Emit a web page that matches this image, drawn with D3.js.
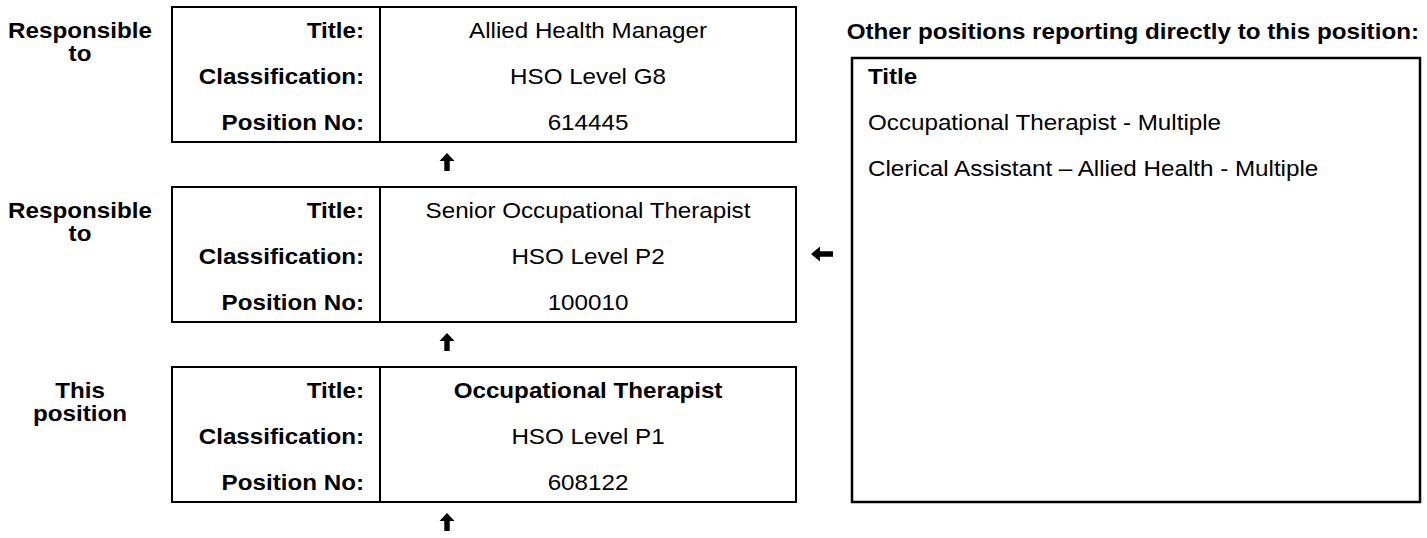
<!DOCTYPE html>
<html>
<head>
<meta charset="utf-8">
<script src="https://cdn.jsdelivr.net/npm/d3@7"></script>
<style>
  html, body { margin: 0; padding: 0; background: #fff; }
  svg { display: block; }
  text { font-family: "Liberation Sans", Arial, sans-serif; fill: #000; }
</style>
</head>
<body>
<div id="chart"></div>
<script>
// chain of positions, top to bottom
var sideLabels = [['Responsible', 'to'], ['Responsible', 'to'], ['This', 'position']];
var fieldLabels = ['Title:', 'Classification:', 'Position No:'];
var titles = ['Allied Health Manager', 'Senior Occupational Therapist', 'Occupational Therapist'];
var classifications = ['HSO Level G8', 'HSO Level P2', 'HSO Level P1'];
var positionNos = ['614445', '100010', '608122'];
var currentIndex = 2;

var otherHeading = 'Other positions reporting directly to this position:';
var otherColumn = 'Title';
var otherTitles = ['Occupational Therapist - Multiple', 'Clerical Assistant \u2013 Allied Health - Multiple'];

var width = 1427,
    height = 538,
    fontsize = 22,
    sx = 1.1,
    svg = d3.select('#chart').append('svg')
        .attr('width', width)
        .attr('height', height),
    boxLeft = 172,
    boxMid = 380,
    boxRight = 796,
    yBox = d3.scaleBand()
        .domain(d3.range(titles.length))
        .range([7, 502])
        .paddingInner(0.25),
    yRow = d3.scalePoint()
        .domain(fieldLabels)
        .range([23, 115]);

var label = function(sel, x, y, txt, anchor, bold) {
    sel.append('text')
        .attr('transform', 'translate(' + x + ',' + y + ') scale(' + sx + ',1)')
        .attr('dy', '0.35em')
        .style('font-size', fontsize + 'px')
        .style('font-weight', bold ? 'bold' : 'normal')
        .style('text-anchor', anchor)
        .text(txt);
};

var rows = titles.map(function(t, i) {
    return {side: sideLabels[i], values: [t, classifications[i], positionNos[i]], current: i === currentIndex};
});

var box = svg.selectAll('.box')
    .data(rows)
    .enter()
    .append('g')
    .attr('class', 'box')
    .attr('transform', function(d, i) { return 'translate(0,' + yBox(i) + ')'; });

box.append('rect')
    .attr('x', boxLeft)
    .attr('y', 0)
    .attr('width', boxRight - boxLeft)
    .attr('height', yBox.bandwidth())
    .attr('fill', 'none')
    .attr('stroke', '#000')
    .attr('stroke-width', 2);

box.append('line')
    .attr('x1', boxMid).attr('x2', boxMid)
    .attr('y1', 0).attr('y2', yBox.bandwidth())
    .attr('stroke', '#000')
    .attr('stroke-width', 2);

box.each(function(d) {
    var g = d3.select(this);
    d.side.forEach(function(line, k) {
        label(g, 80, yRow(fieldLabels[0]) + k * 23, line, 'middle', true);
    });
    fieldLabels.forEach(function(f, k) {
        label(g, 364, yRow(f), f, 'end', true);
        label(g, (boxMid + boxRight) / 2, yRow(f), d.values[k], 'middle', d.current && k === 0);
    });
});

// up arrows under each box
var upArrow = 'M0,-9 L7.5,-1 L2.7,-1 L2.7,9 L-2.7,9 L-2.7,-1 L-7.5,-1 Z';
svg.selectAll('.up')
    .data(rows)
    .enter()
    .append('path')
    .attr('class', 'up')
    .attr('d', upArrow)
    .attr('transform', function(d, i) { return 'translate(447,' + (yBox(i) + yBox.bandwidth() + 20) + ')'; })
    .attr('fill', '#000');

// left arrow pointing to the middle box
svg.append('path')
    .attr('d', 'M-11,0 L-2,-7.5 L-2,-2.7 L11,-2.7 L11,2.7 L-2,2.7 L-2,7.5 Z')
    .attr('transform', 'translate(822,' + (yBox(1) + yRow(fieldLabels[1]) - 2) + ')')
    .attr('fill', '#000');

// other positions panel
var panel = svg.append('g');
var pRow = d3.scalePoint()
    .domain(d3.range(otherTitles.length + 1))
    .range([76, 76 + 46 * otherTitles.length]);

label(panel, 1419, 31, otherHeading, 'end', true);

panel.append('rect')
    .attr('x', 852)
    .attr('y', 58)
    .attr('width', 1420 - 852)
    .attr('height', 502 - 58)
    .attr('fill', 'none')
    .attr('stroke', '#000')
    .attr('stroke-width', 2.5);

label(panel, 868, pRow(0), otherColumn, 'start', true);
otherTitles.forEach(function(t, i) {
    label(panel, 868, pRow(i + 1), t, 'start', false);
});
</script>
</body>
</html>
